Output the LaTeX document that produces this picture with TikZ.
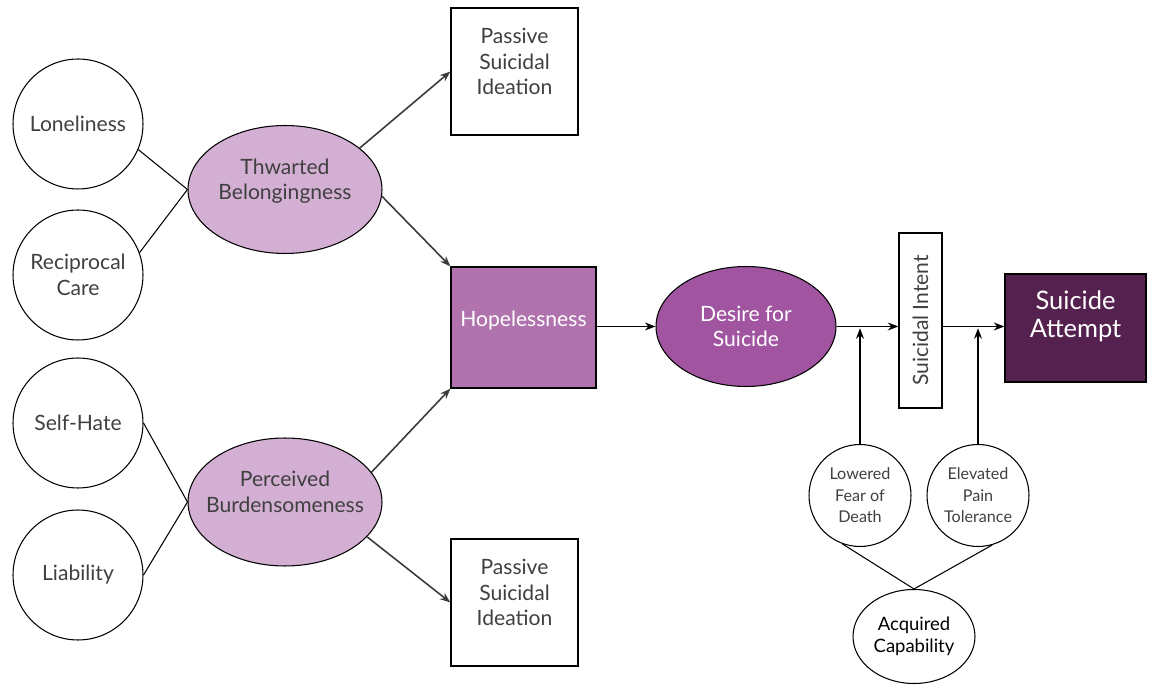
\documentclass[tikz,border=0pt]{standalone}
\usepackage{fontspec}
\setmainfont{Lato}
\usetikzlibrary{arrows.meta, shapes.geometric}
\definecolor{lilac}{HTML}{D3AFD3}
\definecolor{hopecol}{HTML}{B073AE}
\definecolor{desirecol}{HTML}{A155A1}
\definecolor{attemptcol}{HTML}{552250}
\definecolor{txtgray}{HTML}{404040}
\definecolor{pilgray}{HTML}{3A3A3A}

\begin{document}
\begin{tikzpicture}[
    x=0.02cm, y=-0.02cm,
    kreis/.style = {circle, draw, line width=0.6pt, inner sep=0pt, minimum size=2.6cm, text=txtgray, align=center},
    oval/.style = {ellipse, draw, line width=0.6pt, inner xsep=-12pt, inner ysep=0pt, align=center},
    punkt/.style = {rectangle, draw, line width=0.7pt, align=center},
    pil/.style = {-{Stealth[length=6pt,width=4.5pt]}, line width=0.9pt},
    lin/.style = {line width=0.6pt},
    font=\fontsize{12}{14.5}\selectfont
    ]
  \useasboundingbox (0,0) rectangle (1153,685);

  % causes on the left
  \node[kreis] (lone) at (78,124) {Loneliness} ;
  \node[kreis] (recip) at (78,275) {Reciprocal\\Care} ;
  \node[kreis] (self) at (78,423) {Self-Hate} ;
  \node[kreis] (liab) at (78,575) {Liability} ;

  \node[oval, fill=lilac, text=txtgray, minimum width=3.88cm, minimum height=2.56cm] (tb) at (285,189.5) {Thwarted\\Belongingness\\[-3pt]\mbox{}} ;
  \node[oval, fill=lilac, text=txtgray, minimum width=3.88cm, minimum height=2.56cm] (pb) at (285,502) {Perceived\\Burdensomeness\\[-3pt]\mbox{}} ;

  \node[punkt, minimum size=2.54cm, text=txtgray] (pas1) at (514.5,71.5) {Passive\\Suicidal\\Ideation\\[-3pt]\mbox{}} ;
  \node[punkt, minimum size=2.54cm, text=txtgray] (pas2) at (514.5,602.5) {Passive\\Suicidal\\Ideation\\[-3pt]\mbox{}} ;

  \node[punkt, fill=hopecol, text=white, minimum width=2.9cm, minimum height=2.42cm, text depth=10pt] (hope) at (523.5,327.5) {Hopelessness} ;
  \node[oval, fill=desirecol, text=white, minimum width=3.6cm, minimum height=2.4cm] (desire) at (746,326.5) {Desire for\\Suicide} ;

  \node[punkt, rotate=90, inner sep=0pt, minimum width=3.5cm, minimum height=0.86cm, text=txtgray] (intent) at (920.5,320.5) {Suicidal Intent} ;
  \node[punkt, fill=attemptcol, text=white, minimum width=2.82cm, minimum height=2.16cm, font=\fontsize{14.5}{16}\selectfont] (attempt) at (1075.5,328) {Suicide\\Attempt\\[0pt]\mbox{}} ;

  % capability
  \node[kreis, minimum size=2.04cm, font=\fontsize{9.2}{12.3}\selectfont] (lowered) at (860,495.5) {Lowered\\Fear of\\Death} ;
  \node[kreis, minimum size=2.04cm, font=\fontsize{9.2}{12.3}\selectfont] (elevated) at (978,495.5) {Elevated\\Pain\\Tolerance} ;
  \node[oval, minimum width=2.44cm, minimum height=1.88cm, text=black, font=\fontsize{10.5}{12.5}\selectfont] (acq) at (914,636.5) {Acquired\\Capability} ;

  \draw[lin]
  (lone.-23) -- (tb.west)
  (recip.20) -- (tb.west)
  (self.east) -- (pb.west)
  (liab.east) -- (pb.west)
  (lowered.-110) -- (acq.north)
  (elevated.-74) -- (acq.north);

  \path[pil, pilgray]
  (tb.29) edge (pas1.west)
  (tb.-4) edge (hope.north west)
  (pb.19) edge (hope.south west)
  (pb.-23) edge (pas2.west);

  \path[pil]
  (hope.east |- desire.west) edge (desire.west)
  (desire.east) edge (desire.east -| intent.north)
  (desire.east -| intent.south) edge (desire.east -| attempt.west)
  (lowered.north) edge[shorten >=1pt] (lowered.north |- desire.east)
  (elevated.north) edge[shorten >=1pt] (elevated.north |- desire.east);
\end{tikzpicture}
\end{document}
